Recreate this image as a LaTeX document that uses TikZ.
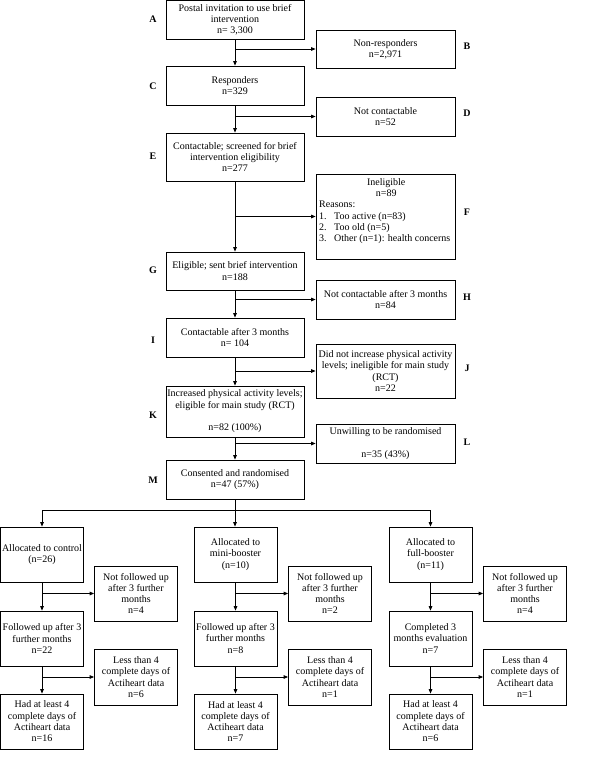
\documentclass[tikz,border=0pt]{standalone}
\usepackage{fontspec}
\setmainfont{Liberation Serif}
\usetikzlibrary{arrows.meta}
\begin{document}
\begin{tikzpicture}[x=1pt,y=-1pt,
  box/.style={draw=black, line width=0.8pt, inner sep=1pt, align=center, font=\fontsize{10}{11.3}\selectfont},
  mainbox/.style={box, minimum width=138pt},
  sidebox/.style={box, minimum width=139pt},
  smallbox/.style={box, minimum width=83pt, minimum height=55pt},
  ftext/.style={inner sep=0pt, align=left, font=\fontsize{10}{11.3}\selectfont},
  lbl/.style={inner sep=0pt, font=\fontsize{10}{11.3}\selectfont\bfseries},
  ln/.style={draw=black, line width=0.8pt},
  arr/.style={ln, -{Triangle[length=4.5pt,width=3.6pt]}}]
\useasboundingbox[fill=white] (0,0) rectangle (600,776);

% main column
\node[mainbox, minimum height=38.5pt] (A) at (235,19.75) {Postal invitation to use brief\\intervention\\n= 3,300};
\node[mainbox, minimum height=39pt] (C) at (235,85.5) {Responders\\n=329};
\node[mainbox, minimum height=48pt] (E) at (235,157) {Contactable; screened for brief\\intervention eligibility\\n=277};
\node[mainbox, minimum height=38pt] (G) at (235,271) {Eligible; sent brief intervention\\n=188};
\node[mainbox, minimum height=39pt] (I) at (235,337.5) {Contactable after 3 months\\n= 104};
\node[mainbox, minimum height=51pt] (K) at (235,411.5) {Increased physical activity levels;\\eligible for main study (RCT)\\ \\n=82 (100\%)};
\node[mainbox, minimum height=39pt] (M) at (235,479.5) {Consented and randomised\\n=47 (57\%)};

% side column
\node[sidebox, minimum height=38pt] (B) at (385.5,49) {Non-responders\\n=2,971};
\node[sidebox, minimum height=39pt] (D) at (385.5,116.5) {Not contactable\\n=52};
\node[sidebox, minimum height=85pt] (F) at (385.5,216.5) {};
\node[ftext, anchor=north west] (Ft) at (319,178) {\makebox[134pt][c]{Ineligible}\\\makebox[134pt][c]{n=89}\\Reasons:\\\makebox[15pt][l]{1.}Too active (n=83)\\\makebox[15pt][l]{2.}Too old (n=5)\\\makebox[15pt][l]{3.}Other (n=1): health concerns};
\node[sidebox, minimum height=39pt] (H) at (385.5,299.5) {Not contactable after 3 months\\n=84};
\node[sidebox, minimum height=54pt] (J) at (385.5,371) {Did not increase physical activity\\levels; ineligible for main study\\(RCT)\\n=22};
\node[sidebox, minimum height=39pt] (L) at (385.5,443.5) {Unwilling to be randomised\\ \\n=35 (43\%)};

% letters
\node[lbl] (lA) at (153,19) {A};
\node[lbl] (lB) at (467,46) {B};
\node[lbl] (lC) at (153,86) {C};
\node[lbl] (lD) at (467,113) {D};
\node[lbl] (lE) at (153,156) {E};
\node[lbl] (lF) at (467,212) {F};
\node[lbl] (lG) at (153,270) {G};
\node[lbl] (lH) at (467,297) {H};
\node[lbl] (lI) at (153,340) {I};
\node[lbl] (lJ) at (467,368) {J};
\node[lbl] (lK) at (153,415) {K};
\node[lbl] (lL) at (467,442) {L};
\node[lbl] (lM) at (153,480) {M};

% main connectors
\draw[arr] (A.south) -- (C.north);
\draw[arr] (A.south |- B.west) -- (B.west);
\draw[arr] (C.south) -- (E.north);
\draw[arr] (C.south |- D.west) -- (D.west);
\draw[arr] (E.south) -- (G.north);
\draw[arr] (E.south |- F.west) -- (F.west);
\draw[arr] (G.south) -- (I.north);
\draw[arr] (G.south |- H.west) -- (H.west);
\draw[arr] (I.south) -- (K.north);
\draw[arr] (I.south |- J.west) -- (J.west);
\draw[arr] (K.south) -- (M.north);
\draw[arr] (K.south |- L.west) -- (L.west);

% control column
\node[smallbox] (c1) at (42,554.5) {Allocated to control\\(n=26)};
\node[smallbox] (c2) at (42,638.5) {Followed up after 3\\further months\\n=22};
\node[smallbox] (c3) at (42,721.5) {Had at least 4\\complete days of\\Actiheart data\\n=16};
\node[smallbox] (cs1) at (136,593.5) {Not followed up\\after 3 further\\months\\n=4};
\node[smallbox, minimum height=56pt] (cs2) at (136,677) {Less than 4\\complete days of\\Actiheart data\\n=6};

% mini column
\node[smallbox] (m1) at (235.5,554.5) {Allocated to\\mini-booster\\(n=10)};
\node[smallbox] (m2) at (235.5,638.5) {Followed up after 3\\further months\\n=8};
\node[smallbox] (m3) at (235.5,721.5) {Had at least 4\\complete days of\\Actiheart data\\n=7};
\node[smallbox] (ms1) at (330,593.5) {Not followed up\\after 3 further\\months\\n=2};
\node[smallbox, minimum height=56pt] (ms2) at (330,677) {Less than 4\\complete days of\\Actiheart data\\n=1};

% full column
\node[smallbox] (f1) at (430.5,554.5) {Allocated to\\full-booster\\(n=11)};
\node[smallbox] (f2) at (430.5,638.5) {Completed 3\\months evaluation\\n=7};
\node[smallbox] (f3) at (430.5,721.5) {Had at least 4\\complete days of\\Actiheart data\\n=6};
\node[smallbox] (fs1) at (525,593.5) {Not followed up\\after 3 further\\months\\n=4};
\node[smallbox, minimum height=56pt] (fs2) at (525,677) {Less than 4\\complete days of\\Actiheart data\\n=1};

% split
\coordinate (sp) at (235,510);
\draw[arr] (M.south) -- (M.south |- m1.north);
\draw[ln] (sp -| c1.north) -- (sp -| f1.north);
\draw[arr] (sp -| c1.north) -- (c1.north);
\draw[arr] (sp -| f1.north) -- (f1.north);

% column connectors
\draw[arr] (c1.south) -- (c2.north);
\draw[arr] (c1.south |- cs1.west) -- (cs1.west);
\draw[arr] (c2.south) -- (c3.north);
\draw[arr] (c2.south |- cs2.west) -- (cs2.west);
\draw[arr] (m1.south) -- (m2.north);
\draw[arr] (m1.south |- ms1.west) -- (ms1.west);
\draw[arr] (m2.south) -- (m3.north);
\draw[arr] (m2.south |- ms2.west) -- (ms2.west);
\draw[arr] (f1.south) -- (f2.north);
\draw[arr] (f1.south |- fs1.west) -- (fs1.west);
\draw[arr] (f2.south) -- (f3.north);
\draw[arr] (f2.south |- fs2.west) -- (fs2.west);
\end{tikzpicture}
\end{document}
